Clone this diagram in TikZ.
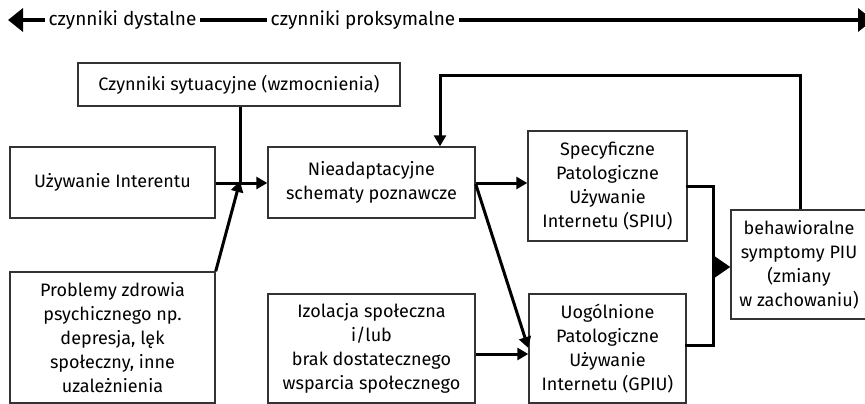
\documentclass[tikz,border=0pt]{standalone}
\usepackage{fontspec}
\setmainfont{Fira Sans}
\usetikzlibrary{arrows.meta}
\definecolor{boxline}{HTML}{333333}
\tikzset{
  box/.style={draw=boxline, line width=1.4pt, align=center, inner sep=2pt,
    font=\fontsize{18}{24}\selectfont},
  conn/.style={line width=3pt, -{Triangle[length=11pt,width=12pt]}},
  plain/.style={line width=3pt},
  axislabel/.style={fill=white, inner xsep=3.5pt, inner ysep=1pt,
    font=\fontsize{19}{21}\selectfont}
}
\begin{document}
\begin{tikzpicture}[x=1pt,y=-1pt]
\useasboundingbox (0,0) rectangle (865,404);

% distal / proximal axis
\coordinate (axL) at (8,20);
\coordinate (axR) at (873,20);
\draw[line width=3.5pt, {Triangle[length=15pt,width=23pt]}-{Triangle[length=15pt,width=23pt]}] (axL) -- (axR);
\node[axislabel] (dist) at (122.5,20) {czynniki dystalne};
\node[axislabel] (prox) at (363,20) {czynniki proksymalne};

% boxes
\node[box, minimum width=322pt, minimum height=43pt] (sit) at (239,84.5) {Czynniki sytuacyjne (wzmocnienia)};
\node[box, minimum width=205pt, minimum height=71pt] (use) at (112.5,182.5) {Używanie Interentu};
\node[box, minimum width=207pt, minimum height=71pt] (mal) at (371.5,182.5) {Nieadaptacyjne\\schematy poznawcze};
\node[box, minimum width=205pt, minimum height=131pt] (ment) at (112.5,337.5) {Problemy zdrowia\\psychicznego np.\\depresja, lęk\\społeczny, inne\\uzależnienia};
\node[box, minimum width=207pt, minimum height=109pt] (iso) at (371.5,348.5) {Izolacja społeczna\\i/lub\\brak dostatecznego\\wsparcia społecznego};
\node[box, minimum width=159pt, minimum height=110pt] (spiu) at (607.5,186) {Specyficzne\\Patologiczne\\Używanie\\Internetu (SPIU)};
\node[box, minimum width=157pt, minimum height=109pt] (gpiu) at (607.5,348.5) {Uogólnione\\Patologiczne\\Używanie\\Internetu (GPIU)};
\node[box, minimum width=136pt, minimum height=109pt] (beh) at (799,264.5) {behawioralne\\symptomy PIU\\(zmiany\\w zachowaniu)};

% inputs to maladaptive cognitions
\coordinate (meet) at (240,183);
\draw[conn] (use.east |- meet) -- (mal.west |- meet);
\draw[plain] (sit.south -| meet) -- (meet);
\draw[conn] (ment.north east) -- ([yshift=2pt]meet);

% cognitions to specific / generalized PIU
\draw[conn] (mal.east |- 0,183) -- (spiu.west |- 0,183);
\draw[conn] (mal.east |- 0,184) -- (gpiu.west |- 0,348);
\draw[conn] (iso.east |- 0,354) -- (gpiu.west |- 0,354);

% both PIU forms lead to behavioural symptoms
\coordinate (join) at (713,267);
\draw[plain, line cap=rect] (spiu.east |- 0,186) -| (join);
\draw[plain, line cap=rect] (gpiu.east |- 0,345) -| (join);
\draw[line width=3pt, -{Triangle[length=18pt,width=24pt]}] (join) -- (beh.west |- join);

% feedback loop to cognitions
\coordinate (fbR) at (800,76);
\coordinate (fbL) at (440,76);
\draw[conn] (beh.north -| fbR) -- (fbR) -- (fbL) -- (mal.north -| fbL);
\end{tikzpicture}
\end{document}
